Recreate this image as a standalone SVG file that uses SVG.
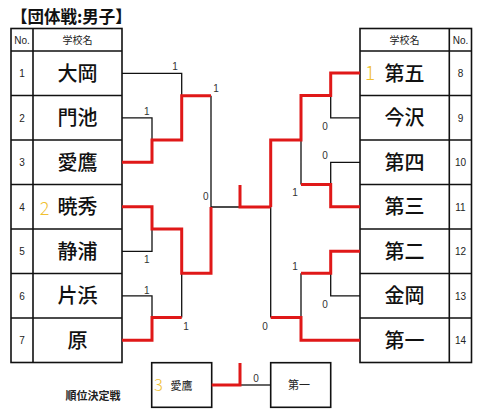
<svg xmlns="http://www.w3.org/2000/svg" width="480" height="415" viewBox="0 0 480 415">
<style>
.grid{fill:none;stroke:#111;stroke-width:1.6}
.name{font-family:"Noto Sans CJK JP","Noto Sans CJK SC",sans-serif;font-size:20px;font-weight:500;fill:#111;text-anchor:middle}
.no{font-family:"Liberation Sans",Arial,sans-serif;font-size:10px;fill:#222;text-anchor:middle}
.hdr{font-family:"Noto Sans CJK JP",sans-serif;font-size:10px;fill:#222;text-anchor:middle}
.sc{font-family:"Liberation Sans",Arial,sans-serif;font-size:10px;fill:#333;text-anchor:middle}
.rank{font-family:"Noto Sans CJK JP","Liberation Sans",sans-serif;font-weight:300;fill:#f0c030;text-anchor:middle}
.blk{fill:none;stroke:#111;stroke-width:1.3}
.red{fill:none;stroke:#e01818;stroke-width:3}
.small{font-family:"Noto Sans CJK JP",sans-serif;font-size:11px;fill:#222;text-anchor:middle}
</style>
<rect width="480" height="415" fill="#fff"/>
<text x="11" y="23" font-family="Noto Sans CJK JP, sans-serif" font-size="16.5" font-weight="bold" fill="#111">【団体戦:男子】</text>

<g id="left-table">
<rect class="grid" x="11" y="28.5" width="111" height="334"/>
<path class="grid" d="M33,28.5V362.5M11,51H122M11,95.5H122M11,140H122M11,184.5H122M11,229H122M11,273.5H122M11,318H122"/>
<text class="no" x="22" y="43.5">No.</text>
<text class="hdr" x="77.5" y="43.5">学校名</text>
</g>
<g id="right-table">
<rect class="grid" x="360" y="28.5" width="111.5" height="334"/>
<path class="grid" d="M449.3,28.5V362.5M360,51H471.5M360,95.5H471.5M360,140H471.5M360,184.5H471.5M360,229H471.5M360,273.5H471.5M360,318H471.5"/>
<text class="hdr" x="404.5" y="43.5">学校名</text>
<text class="no" x="460.5" y="43.5">No.</text>
</g>

<g id="n1"><text class="no" x="22" y="77">1</text><text class="name" x="77.5" y="80.5">大岡</text></g>
<g id="n2"><text class="no" x="22" y="121.5">2</text><text class="name" x="77.5" y="125">門池</text></g>
<g id="n3"><text class="no" x="22" y="166">3</text><text class="name" x="77.5" y="169.5">愛鷹</text></g>
<g id="n4"><text class="no" x="22" y="210.5">4</text><text class="rank" x="44.5" y="215" font-size="18">2</text><text class="name" x="77.5" y="214">暁秀</text></g>
<g id="n5"><text class="no" x="22" y="255">5</text><text class="name" x="77.5" y="258.5">静浦</text></g>
<g id="n6"><text class="no" x="22" y="299.5">6</text><text class="name" x="77.5" y="303">片浜</text></g>
<g id="n7"><text class="no" x="22" y="344">7</text><text class="name" x="77.5" y="347.5">原</text></g>

<g id="n8"><text class="rank" x="370" y="80" font-size="19">1</text><text class="name" x="404.5" y="80.5">第五</text><text class="no" x="460.5" y="77">8</text></g>
<g id="n9"><text class="name" x="404.5" y="125">今沢</text><text class="no" x="460.5" y="121.5">9</text></g>
<g id="n10"><text class="name" x="404.5" y="169.5">第四</text><text class="no" x="460.5" y="166">10</text></g>
<g id="n11"><text class="name" x="404.5" y="214">第三</text><text class="no" x="460.5" y="210.5">11</text></g>
<g id="n12"><text class="name" x="404.5" y="258.5">第二</text><text class="no" x="460.5" y="255">12</text></g>
<g id="n13"><text class="name" x="404.5" y="303">金岡</text><text class="no" x="460.5" y="299.5">13</text></g>
<g id="n14"><text class="name" x="404.5" y="347.5">第一</text><text class="no" x="460.5" y="344">14</text></g>

<g id="third-a"><rect class="grid" x="151.7" y="362.7" width="60" height="44.6"/><text class="rank" x="158.5" y="390.5" font-size="16.5">3</text><text class="small" x="181.5" y="389.5" font-size="12">愛鷹</text></g>
<g id="third-b"><rect class="grid" x="270.7" y="362.7" width="60" height="44.6"/><text class="small" x="299" y="389">第一</text></g>
<text class="small" x="93" y="400" font-weight="bold" fill="#444" font-size="11.5">順位決定戦</text>

<g id="connectors">
<path class="blk" d="M122,73.3H181.7V95.7M122,117.8H152V140M122,251.3H152V229M122,295.8H152V317.5M181.7,273.3V317.5M211,95.7V207H240"/>
<path class="blk" d="M360,117.8H330.7V95.5M360,162.3H330.7V184.5M301,140V184.5M360,295.8H330.7V273.3M301,273.3V317.5M270.7,207V317.5"/>
<path class="blk" d="M240,385H270.7"/>
<path class="red" d="M122,162.3H152V140H181.7V95.7H211"/>
<path class="red" d="M122,206.8H152V229H181.7V273.3H211V207"/>
<path class="red" d="M122,340.3H152V317.5H181.7"/>
<path class="red" d="M240,185V207H270.7"/>
<path class="red" d="M360,73H330.7V95.5H301V140H270.7V207"/>
<path class="red" d="M360,206.8H330.7V184.5H301"/>
<path class="red" d="M360,251.3H330.7V273.3H301"/>
<path class="red" d="M360,340.3H301V317.5H270.7"/>
<path class="red" d="M211.7,385H240V363"/>
</g>

<g id="scores">
<text class="sc" x="175" y="70">1</text>
<text class="sc" x="146.7" y="114.5">1</text>
<text class="sc" x="216" y="91.5">1</text>
<text class="sc" x="205.7" y="199.5">0</text>
<text class="sc" x="146.7" y="262.5">1</text>
<text class="sc" x="146.7" y="293.5">1</text>
<text class="sc" x="186" y="329.5">1</text>
<text class="sc" x="325" y="129.5">0</text>
<text class="sc" x="325" y="159">0</text>
<text class="sc" x="295" y="195.5">1</text>
<text class="sc" x="295" y="270">1</text>
<text class="sc" x="325" y="307.5">0</text>
<text class="sc" x="265" y="330">0</text>
<text class="sc" x="256" y="381.5">0</text>
</g>
</svg>
